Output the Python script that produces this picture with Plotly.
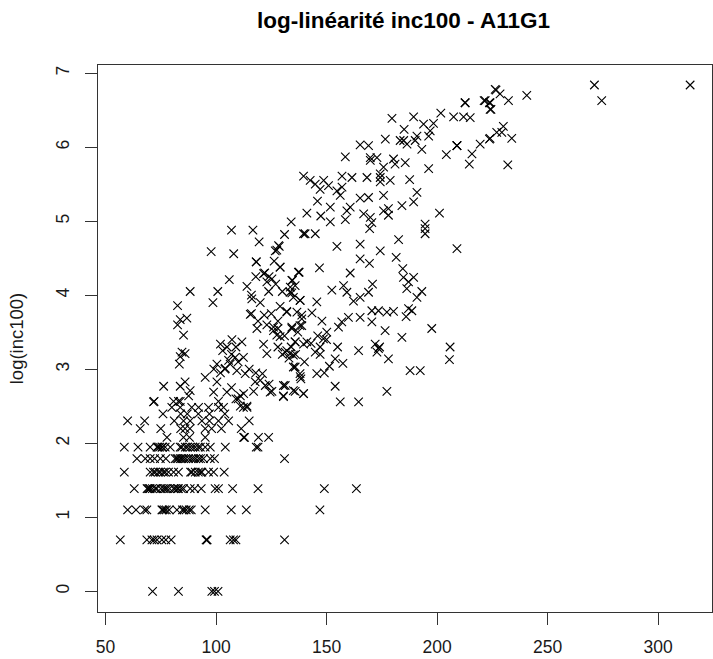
import plotly.graph_objects as go

# Discrete rows at the low end (log of small counts): x values read per row
row_y = [0.0, 0.693, 1.099, 1.386, 1.609, 1.792, 1.946, 2.079, 2.197, 2.303, 2.398, 2.485, 2.565]
row_x = [
    [71.3, 83, 98.1, 99.3, 100.9],
    [56.7, 68.7, 71, 72, 73.3, 75.5, 77.3, 79.7, 95.5, 95.9, 95.9, 106.4, 107.9, 109, 131],
    [60, 63.8, 67.7, 68.7, 75.5, 75.9, 76.7, 77.5, 78.8, 82.3, 84.8, 85.5, 86.5, 87.9, 88.8, 95.1, 106.9, 113.7, 147],
    [63, 68.8, 69.2, 69.8, 70.2, 71.2, 72.5, 73.2, 75, 76.2, 77, 77.8, 79, 80.8, 81.5, 82.5, 83, 84.3, 85.3, 88.3, 90.3, 93.3, 99.6, 101.1,
     107.5, 119, 149, 163.5],
    [58.5, 70.2, 71.7, 72.5, 74, 74.8, 76.2, 77, 78.5, 80.8, 83, 88.5, 89.1, 90.6, 92, 93, 93.6, 96.6, 98.9, 103.7],
    [64.2, 68, 70.2, 72.2, 74.8, 77.3, 81.5, 82.3, 82.8, 83.8, 84.5, 85.3, 86.3, 87.6, 88.8, 89.8, 90.8, 92.1, 93, 94.3, 97.4, 99.3, 131],
    [58.5, 64.7, 70.2, 73.3, 73.8, 74.5, 75.5, 75.8, 77, 79.3, 83.8, 84.5, 86.1, 87, 88.3, 89.5, 90.6, 92, 92.9, 95.1, 97.4, 104.2, 118.2, 119],
    [77.8, 85.3, 88, 95.1, 112.5, 112.9, 119.2, 123.8],
    [65.7, 75, 84, 86, 88.2, 95.1, 98, 102.4, 111.4],
    [60, 67.7, 81.1, 85.3, 88.3, 93.6, 97, 101.1, 105.7, 115],
    [76, 84, 87, 92, 97, 104],
    [80, 83.8, 89, 92.1, 96.6, 101.1, 103.4, 112.4, 114],
    [72, 80.8, 83, 83.8, 101.1],
]

# Scatter in the lower-left / middle of the cloud
mid_x = [107, 116.7, 134, 131, 140.3, 119.5, 128.6, 127.5, 97.8, 108, 118.2, 118.2, 126.3, 129, 137.6, 121.5, 125.3, 106,
         134.6, 123, 114, 133.6, 123.8, 88.3, 100.8, 134.3, 138, 98.6, 116.2, 82.6, 132, 115.5, 121.8, 138.8, 86.8, 83.8,
         82.6, 138, 118.5, 126, 127.5, 134.3, 85.3, 102, 107.2, 111.7, 121.5, 135.8, 139.6, 131.3, 135, 123, 84.6, 86,
         83.8, 83.4, 105.7, 106.4, 100.4, 112.4, 108.7, 104.2, 109.4, 113.2, 121, 135.8, 138, 138.4, 95.1, 117.7, 122.3,
         131.3, 100.4, 76.3, 86, 83.8, 88.3, 87.6, 124.5, 130.5, 135, 139.6, 104.9, 98.9, 112.5, 111, 71.7,
         128, 130, 132, 133, 134, 136, 137, 128, 131, 111, 110, 114,
         103, 105, 109, 104, 110, 107, 99, 102, 115, 118, 117, 120, 124, 107, 109,
         116, 119, 123, 125, 128, 120, 124, 127, 122, 130, 129, 118, 116,
         140, 143, 146, 150, 155, 149]
mid_y = [4.88, 4.88, 4.99, 4.82, 4.83, 4.72, 4.66, 4.61, 4.59, 4.56, 4.45, 4.45, 4.46, 4.38, 4.31, 4.29, 4.22, 4.21,
         4.2, 4.18, 4.12, 4.11, 4.05, 4.05, 4.05, 4.03, 3.93, 3.9, 3.95, 3.86, 3.78, 3.74, 3.73, 3.73, 3.69, 3.67,
         3.6, 3.59, 3.55, 3.57, 3.46, 3.55, 3.46, 3.34, 3.4, 3.37, 3.34, 3.37, 3.34, 3.23, 3.19, 3.21, 3.23, 3.21,
         3.17, 3.07, 3.12, 3.07, 3.07, 3.16, 3.16, 3.01, 2.98, 2.94, 2.94, 3.03, 2.94, 2.87, 2.89, 2.83, 2.78,
         2.78, 2.83, 2.77, 2.83, 2.77, 2.71, 2.64, 2.69, 2.64, 2.71, 2.67, 2.69, 2.69, 2.67, 2.64, 2.56,
         3.3, 3.2, 3.25, 3.15, 3.3, 3.2, 3.5, 3.55, 3.45, 2.5, 2.6, 2.5,
         3.25, 3.3, 3.3, 3.0, 3.1, 3.2, 3.0, 2.95, 3.0, 2.95, 2.7, 2.85, 2.8, 2.75, 2.6,
         3.75, 3.65, 3.6, 3.75, 3.65, 3.9, 4.25, 4.15, 4.3, 4.05, 3.85, 4.25, 4.0,
         3.1, 3.35, 3.45, 3.4, 3.3, 2.95]

# Upper band of the cloud
upper_x = [226.3, 221.8, 212.7, 212.7, 224, 224.4, 179.6, 189.4, 201.7, 207.5, 212, 215, 193.9, 198.4, 185.1, 196.9, 196.2,
           176.6, 183.3, 184.9, 190.9, 190.1, 186.4, 165.2, 169, 193.1, 209, 209, 209, 224, 219.5, 227, 215.8, 214.6,
           204.2, 158.5, 169.8, 172.8, 169.8, 180.3, 181, 185.6, 175.8, 174.3, 174.3, 196.2, 178.8, 174.3, 161.5, 157,
           168.3, 187.6, 139.6, 142.6, 144.9, 148.7, 150.9, 147.1, 157, 154.7, 156.2, 190.9, 189.4, 175.8, 169, 165.2,
           160.7, 145.9, 151.7, 184.1, 178, 175.8, 178, 141.1, 201.1, 147.4, 151.7, 159.2, 158.5, 166.8, 169.8, 170.5,
           169.5, 194.6, 194.6, 194.6, 139.6, 144.9, 182.6, 154.7, 165.2, 174.3, 209, 181.5, 165.2,
           314.5, 271.2, 274.5, 240.6, 226.7, 228.5, 232.3, 221.3, 223.7, 224, 230, 229.3, 233.8, 223.7, 232]
upper_y = [6.78, 6.63, 6.6, 6.6, 6.6, 6.51, 6.39, 6.41, 6.46, 6.41, 6.41, 6.4, 6.31, 6.32, 6.24, 6.22, 6.15,
           6.11, 6.09, 6.09, 6.15, 6.09, 6.04, 6.03, 6.02, 5.97, 6.02, 6.02, 6.02, 6.12, 6.04, 6.2, 5.91, 5.77,
           5.9, 5.87, 5.86, 5.86, 5.82, 5.84, 5.77, 5.79, 5.73, 5.64, 5.59, 5.71, 5.55, 5.53, 5.59, 5.61,
           5.59, 5.56, 5.61, 5.55, 5.5, 5.55, 5.48, 5.43, 5.46, 5.41, 5.35, 5.39, 5.26, 5.35, 5.32, 5.31,
           5.19, 5.27, 5.19, 5.21, 5.17, 5.14, 5.08, 5.11, 5.11, 5.07, 4.99, 5.14, 5.02, 5.1, 5.05, 4.98,
           4.9, 4.96, 4.9, 4.83, 4.83, 4.83, 4.75, 4.66, 4.69, 4.6, 4.63, 4.51, 4.49,
           6.84, 6.84, 6.63, 6.7, 6.77, 6.72, 6.63, 6.63, 6.6, 6.51, 6.28, 6.2, 6.12, 6.11, 5.76]

# Lower-right band of the cloud
right_x = [128.3, 126.8, 169.4, 146.8, 129, 137.3, 160.7, 184.5, 184.8, 187.1, 189.4, 186.3, 134.3, 135.8, 157.7, 170.8,
           152.4, 159.2, 193.1, 190.9, 169, 165.2, 162.2, 133.5, 135, 138.1, 145.6, 132, 136.6, 138.8, 138.8, 143.4,
           147.9, 170.5, 173.5, 177.3, 180.3, 187.1, 188.6, 186, 165.2, 159.9, 156.9, 155.4, 170.5, 176.5, 197.6,
           184.1, 150.1, 148.6, 134.3, 141.1, 135.8, 133.5, 147.1, 144.9, 147.1, 164.5, 172, 173.5, 172.8, 174, 178,
           205.9, 205.6, 153.9, 157.4, 151.3, 126, 129, 135, 138.1, 145.6, 187.8, 192.4, 153.9, 177.3, 130.5, 130.5,
           135.8, 139.6, 156.2, 164.5, 125.3]
right_y = [4.67, 4.6, 4.43, 4.37, 4.38, 4.31, 4.3, 4.36, 4.24, 4.18, 4.24, 4.09, 4.2, 4.13, 4.13, 4.15,
           4.07, 4.04, 4.05, 3.97, 4.04, 3.97, 3.92, 4.04, 3.97, 3.93, 3.91, 3.77, 3.77, 3.68, 3.59, 3.76,
           3.65, 3.79, 3.79, 3.77, 3.78, 3.82, 3.79, 3.71, 3.7, 3.7, 3.64, 3.57, 3.64, 3.52, 3.55,
           3.43, 3.5, 3.41, 3.57, 3.37, 3.37, 3.21, 3.3, 3.23, 3.2, 3.25, 3.34, 3.28, 3.23, 3.3, 3.14,
           3.3, 3.13, 3.14, 3.08, 3.04, 3.52, 3.44, 3.03, 2.9, 2.94, 2.98, 2.98, 2.77, 2.7, 2.78, 2.63,
           2.7, 2.67, 2.56, 2.56, 2.7]

xs, ys = [], []
for level, values in zip(row_y, row_x):
    xs += values
    ys += [level] * len(values)
xs += mid_x + upper_x + right_x
ys += mid_y + upper_y + right_y

FONT = "Liberation Sans"
INK = "#333333"
TEXT = "#1a1a1a"

fig = go.Figure(go.Scatter(
    x=xs, y=ys, mode="markers",
    marker=dict(symbol="x-thin", size=8.5, color="black", line=dict(color="black", width=1.1)),
))
axis = dict(showgrid=False, zeroline=False, showline=True, mirror=True, linecolor=INK, linewidth=1,
            ticks="outside", ticklen=12, tickwidth=1, tickcolor=INK, automargin=False,
            tickfont=dict(family=FONT, size=17.5, color=TEXT))
fig.update_layout(
    width=713, height=659, margin=dict(l=98, r=1, t=65, b=47),
    paper_bgcolor="white", plot_bgcolor="white", showlegend=False,
    title=dict(text="<b>log-linéarité inc100 - A11G1</b>", x=0.566, xanchor="center", y=0.97, yanchor="middle",
               font=dict(family=FONT, size=22.5, color="black")),
    xaxis=dict(axis, range=[46.6, 324.4], tickvals=[50, 100, 150, 200, 250, 300], ticklabelstandoff=7),
    yaxis=dict(axis, range=[-0.28, 7.11], tickvals=list(range(8)), tickangle=-90, ticklabelstandoff=9,
               title=dict(text="log(inc100)", font=dict(family=FONT, size=18.5, color=TEXT), standoff=24)),
)
fig.write_html("out.html", config={"displayModeBar": False}, post_script="document.body.style.margin='0';")
